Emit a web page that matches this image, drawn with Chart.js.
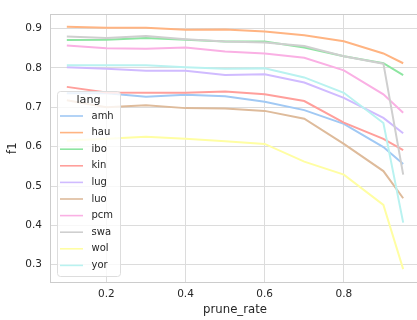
<!DOCTYPE html>
<html>
<head>
<meta charset="utf-8">
<script src="https://cdn.jsdelivr.net/npm/chart.js@4.4.0/dist/chart.umd.min.js"></script>
<style>
  html, body { margin: 0; padding: 0; background: #fff; }
  body { width: 417px; height: 320px; overflow: hidden; }
  #wrap { width: 425px; height: 320px; }
</style>
</head>
<body>
<div id="wrap"><canvas id="grafico" width="425" height="320"></canvas></div>
<script>
// dados
var prune_rate = [0.1, 0.2, 0.3, 0.4, 0.5, 0.6, 0.7, 0.8, 0.9, 0.95]
var langs = ['amh', 'hau', 'ibo', 'kin', 'lug', 'luo', 'pcm', 'swa', 'wol', 'yor']

var amh = [0.736, 0.736, 0.727, 0.732, 0.728, 0.714, 0.693, 0.658, 0.599, 0.556]
var hau = [0.905, 0.902, 0.902, 0.897, 0.898, 0.893, 0.883, 0.868, 0.837, 0.812]
var ibo = [0.871, 0.872, 0.876, 0.872, 0.867, 0.867, 0.852, 0.830, 0.812, 0.782]
var kin = [0.752, 0.738, 0.737, 0.737, 0.740, 0.733, 0.716, 0.661, 0.620, 0.591]
var lug = [0.802, 0.798, 0.793, 0.793, 0.782, 0.784, 0.763, 0.724, 0.673, 0.634]
var luo = [0.718, 0.700, 0.705, 0.698, 0.697, 0.691, 0.671, 0.607, 0.538, 0.469]
var pcm = [0.857, 0.850, 0.849, 0.852, 0.842, 0.837, 0.826, 0.794, 0.733, 0.686]
var swa = [0.880, 0.876, 0.881, 0.873, 0.867, 0.865, 0.856, 0.830, 0.811, 0.529]
var wol = [0.615, 0.620, 0.625, 0.620, 0.614, 0.607, 0.562, 0.529, 0.452, 0.289]
var yor = [0.807, 0.807, 0.807, 0.802, 0.798, 0.799, 0.776, 0.737, 0.660, 0.407]

var x_ticks = [0.2, 0.4, 0.6, 0.8]
var y_ticks = [0.3, 0.4, 0.5, 0.6, 0.7, 0.8, 0.9]

var series = [amh, hau, ibo, kin, lug, luo, pcm, swa, wol, yor]
var cores = ['#a1c9f4', '#ffb482', '#8de5a1', '#ff9f9b', '#d0bbff',
             '#debb9b', '#fab0e4', '#cfcfcf', '#fffea3', '#b9f2f0']

var fonte = 'DejaVu Sans'
var cor_texto = '#262626'

var datasets = []
for (let i = 0; i < langs.length; i++) {
    datasets.push({
        label: langs[i],
        data: series[i].map(function(v, j){ return {x: prune_rate[j], y: v} }),
        borderColor: cores[i],
        backgroundColor: cores[i],
        borderWidth: 2,
        pointRadius: 0,
        tension: 0,
        order: langs.length - i
    })
}

// moldura do grafico (linhas de cima e direita tambem)
const moldura = {
    id: 'moldura',
    beforeDatasetsDraw(chart) {
        const c = chart.ctx, a = chart.chartArea
        c.save()
        c.strokeStyle = '#cccccc'
        c.lineWidth = 1
        c.strokeRect(Math.round(a.left) + 0.5, Math.round(a.top) + 0.5,
                     Math.round(a.right - a.left), Math.round(a.bottom - a.top))
        c.restore()
    }
}

// legenda dentro do grafico, como no seaborn
const legenda = {
    id: 'legenda',
    afterDatasetsDraw(chart) {
        const c = chart.ctx
        const x0 = 57, y0 = 91, w = 63, h = 185
        c.save()
        c.beginPath()
        c.roundRect(x0 + 0.5, y0 + 0.5, w, h, 3)
        c.fillStyle = 'rgba(255,255,255,0.8)'
        c.fill()
        c.strokeStyle = '#dddddd'
        c.lineWidth = 1
        c.stroke()

        c.fillStyle = cor_texto
        c.textBaseline = 'middle'
        c.textAlign = 'center'
        c.font = '11.2px "' + fonte + '"'
        c.fillText('lang', 88.5, 100)

        c.textAlign = 'left'
        c.font = '10px "' + fonte + '"'
        chart.data.datasets.forEach(function(ds, i){
            const y = 116 + i * 16.6
            c.strokeStyle = ds.borderColor
            c.lineWidth = 1.6
            c.beginPath()
            c.moveTo(60, y)
            c.lineTo(83, y)
            c.stroke()
            c.fillStyle = cor_texto
            c.fillText(ds.label, 91.5, y)
        })
        c.restore()
    }
}

const ctx = document.getElementById('grafico').getContext('2d')
const myChart = new Chart(ctx, {
    type: 'line',
    data: { datasets: datasets },
    options: {
        responsive: false,
        animation: false,
        devicePixelRatio: 1,
        layout: { padding: { left: 0, right: 5, top: 7, bottom: 0 } },
        plugins: {
            legend: { display: false },
            tooltip: { enabled: false }
        },
        scales: {
            x: {
                type: 'linear',
                min: 0.0575,
                max: 0.9925,
                afterBuildTicks: function(scale){
                    scale.ticks = x_ticks.map(function(v){ return {value: v} })
                },
                afterFit: function(scale){ scale.height = 38 },
                grid: { color: '#dcdcdc', lineWidth: 1, drawTicks: false },
                border: { display: false },
                ticks: {
                    padding: 6,
                    color: cor_texto,
                    font: { family: fonte, size: 10.5 },
                    maxRotation: 0,
                    callback: function(v){ return v.toFixed(1) }
                },
                title: {
                    display: true,
                    text: 'prune_rate',
                    color: cor_texto,
                    font: { family: fonte, size: 11.7 },
                    padding: { top: 0, bottom: 3 }
                }
            },
            y: {
                type: 'linear',
                min: 0.2562,
                max: 0.9364,
                afterBuildTicks: function(scale){
                    scale.ticks = y_ticks.map(function(v){ return {value: v} })
                },
                afterFit: function(scale){ scale.width = 50 },
                grid: { color: '#dcdcdc', lineWidth: 1, drawTicks: false },
                border: { display: false },
                ticks: {
                    padding: 8,
                    color: cor_texto,
                    font: { family: fonte, size: 10.5 },
                    callback: function(v){ return v.toFixed(1) }
                },
                title: {
                    display: true,
                    text: 'f1',
                    color: cor_texto,
                    font: { family: fonte, size: 11.7 },
                    padding: { top: 6, bottom: 0 }
                }
            }
        }
    },
    plugins: [moldura, legenda]
})
</script>
</body>
</html>
